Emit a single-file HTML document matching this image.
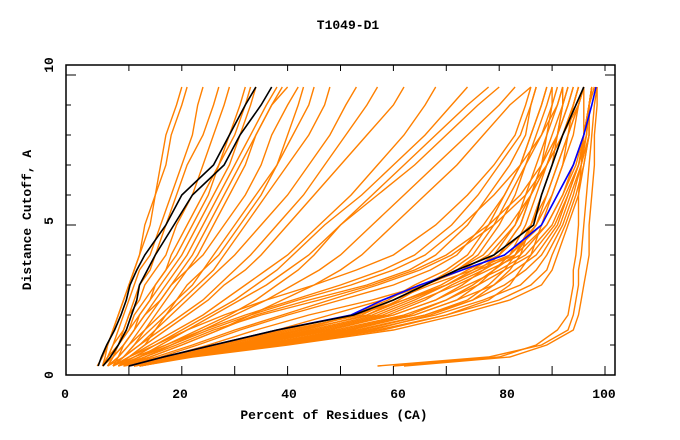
<!DOCTYPE html>
<html><head><meta charset="utf-8"><style>
html,body{margin:0;padding:0;background:#fff;}
svg{display:block;}
text{font-family:"Liberation Mono",monospace;font-weight:bold;font-size:13px;fill:#000;}
</style></head><body>
<svg id="chart" width="680" height="440">
<text x="348" y="29" text-anchor="middle">T1049-D1</text>
<text x="334" y="419" text-anchor="middle">Percent of Residues (CA)</text>
<text x="0" y="0" text-anchor="middle" transform="translate(31,220) rotate(-90)">Distance Cutoff, A</text>
<g id="lines"></g>
<g id="axes"></g>
</svg>
<script>
const yLevels=[0.3,0.6,1,1.5,2,2.5,3,3.5,4,5,6,7,8,9,9.6];
const orangeLines=[
[5,5.5,6,7,8,9,10,11,12,14,15,17,18,20,21],
[5,6,7,8,9,10,11,12,14,16,18,20,22,23,24],
[6,7,8,9,10,12,13,15,17,19,22,24,26,28,29],
[6,7,8,10,12,14,16,18,20,23,26,29,31,33,34],
[7,8,9,11,13,15,17,19,21,24,27,30,33,36,38],
[7,9,11,13,15,17,19,21,23,26,29,32,34,37,39],
[5,7,9,11,13,16,18,21,24,28,32,35,37,40,42],
[6,8,10,13,16,19,22,24,26,30,34,38,40,42,43],
[8,10,13,15,17,19,21,24,27,31,35,38,41,44,45],
[5,6,8,10,11,13,15,17,18,21,24,27,30,32,33],
[4,5,6,7,8,9,10,11,12,13,15,16,17,19,20],
[5,6,7,9,10,11,12,14,15,17,19,21,24,26,27],
[6,7,9,11,12,14,15,17,19,22,25,27,29,31,32],
[6,8,10,12,14,16,18,20,22,25,28,31,34,37,40],
[7,9,11,14,17,20,23,26,28,32,36,40,44,47,48],
[7,9,12,15,18,21,24,27,30,35,40,44,48,51,53],
[7,10,14,19,24,28,32,36,40,46,52,57,62,66,68],
[8,11,15,20,25,30,34,38,41,47,54,60,66,71,74],
[8,12,17,23,29,34,38,42,45,50,56,62,68,74,78],
[9,13,18,24,30,36,41,46,50,56,62,68,74,80,83],
[7,10,13,17,21,25,28,32,35,40,45,50,55,60,62],
[9,14,20,27,33,39,45,50,54,60,66,72,77,82,86],
[6,9,12,16,20,24,27,30,33,38,43,47,51,55,57],
[8,12,16,21,26,31,36,40,44,50,57,64,70,76,80],
[8,14,20,27,34,44,55,63,68,74,78,82,85,86,87],
[9,16,23,31,40,50,60,67,72,77,81,84,86,88,89],
[9,17,25,34,44,56,66,73,78,83,86,89,91,92,92],
[10,21,31,42,53,62,70,76,80,84,86,88,89,90,90],
[9,19,28,38,48,58,66,72,77,82,86,89,92,95,96],
[7,10,15,21,28,36,45,53,60,68,74,79,83,85,86],
[7,11,17,24,32,41,50,58,64,71,76,80,84,86,87],
[8,13,19,26,35,46,56,64,70,78,84,88,91,93,94],
[8,12,18,25,33,42,52,60,66,73,79,84,88,91,92],
[9,15,22,30,39,48,57,65,71,79,85,89,92,94,95],
[10,17,27,40,54,60,67,75,82,88,91,94,96,97,98],
[10,17.5,29,42,56,63,70,76,83,89,92,94,96,97,98],
[11,18,30,45,58,65,72,78,84,89,92,94.5,96,97,97.5],
[11,19,32,47,60,68,74,80,85,90,92.5,95,96,97,97.5],
[11,19,33,49,62,70,76,81,86,90.5,93,95,96.5,97,97.5],
[11,20,34,51,64,72,79,83,87,91,93,95,96.5,97,97.5],
[11,20,36,53,66,75,81,85,88,91.5,93.5,95.5,96.5,97,97.5],
[12,21,37,55,68,77,84,87,89,92,94,95.5,97,97,97.5],
[12,21,38,57,70,80,86,89,90,92.5,94.5,96,97,97,97.5],
[12,22,40,60,72,82,88,90,91,93,95,96,97,97,97.5],
[10,17,28,41,53,60,66,72,76,80,83,85,87,89,90],
[11,18,31,44,57,64,70,75,79,83,85,87,89,91,92],
[11,19,33,48,60,68,73,77,80,84,86,88,90,92,93],
[12,20,35,52,64,72,76,79,82,85,87,89,91,93,94],
[12,21,38,56,67,75,79,82,84,86,88,90,92,94,95],
[12,21,39,58,70,78,82,84,86,88,90,92,93,95,96],
[10,18,30,43,55,62,69,74,80,86,89,91,93,95,96],
[11,19,31,46,59,66,71,77,82,87,90,92,94,95,96],
[11,20,35,50,63,70,75,79,83,87,89,91,93,94,95],
[12,21,36,54,66,74,78,81,83,86,88,90,91,92,93],
[10,17,27,39,52,59,64,70,74,78,81,84,86,88,89],
[11,18,30,43,55,61,66,71,75,79,82,85,88,90,91],
[57,78,88,93,94,94.5,95,95,95.5,96,96.5,97,97.5,98,98.5],
[60,80,87,91,93,93.5,94,94,94.5,95,95,95.5,96,96,96],
[62,82,89,94,95,95.5,96,96.5,97,97,97.5,98,98,98.5,98.5]
];
const blackLeft1=[4.2,4.8,5.8,7.3,8.5,9.5,10.2,11.5,13,17,20,26,29,32,34];
const blackLeft2=[5.1,6.5,8,9.5,10.5,11.5,12,13.5,15,18.5,22,28,31,35,37];
const blackRight=[10,16.5,26,38,52.5,60,66,72,79,86.5,88,90,92,94.5,96];
const blueLine=[10,16.5,26,38,52,58,65,73,81,88,91,94,96,97.5,98.3];
const xTicks=[10,20,30,40,50,60,70,80,90,100];
const xTickLabels=["0","20","40","60","80","100"];
const yTicks=[0,1,2,3,4,5,6,7,8,9,10];
const yTickLabels=["0","5","10"];

const NS="http://www.w3.org/2000/svg";
const L=66,R=615,T=65,B=375;
function xs(v){return 76+5.29*v;}
function ys(v){return 375-30*v;}
const svg=document.getElementById('chart');
const defs=document.createElementNS(NS,'defs');
defs.innerHTML='<clipPath id="cp"><rect x="'+L+'" y="'+T+'" width="'+(R-L)+'" height="'+(B-T)+'"/></clipPath>';
svg.appendChild(defs);
const lg=document.getElementById('lines');
lg.setAttribute('clip-path','url(#cp)');
function pathD(arr){return arr.map(function(v,i){return (i?'L':'M')+xs(v).toFixed(1)+','+ys(yLevels[i]).toFixed(1);}).join('');}
orangeLines.forEach(function(arr){
  const p=document.createElementNS(NS,'path');
  p.setAttribute('d',pathD(arr));
  p.setAttribute('fill','none');
  p.setAttribute('stroke','#ff8000');
  p.setAttribute('stroke-width','1.4');
  
  
  lg.appendChild(p);
});
const special=[[blueLine,'#0000ff','blue-line'],[blackRight,'#000000','black-line-right'],[blackLeft1,'#000000','black-line-left-1'],[blackLeft2,'#000000','black-line-left-2']];
special.forEach(function(s){
  const p=document.createElementNS(NS,'path');
  p.setAttribute('d',pathD(s[0]));
  p.setAttribute('fill','none');
  p.setAttribute('stroke',s[1]);
  p.setAttribute('stroke-width','1.6');
  
  
  lg.appendChild(p);
});
const ax=document.getElementById('axes');
let h='<rect x="'+L+'" y="'+T+'" width="'+(R-L)+'" height="'+(B-T)+'" fill="none" stroke="#000" stroke-width="1.5"/>';
xTicks.forEach(function(v){const x=xs(v);h+='<line x1="'+x+'" y1="'+B+'" x2="'+x+'" y2="'+(B-9)+'" stroke="#000"/><line x1="'+x+'" y1="'+T+'" x2="'+x+'" y2="'+(T+6)+'" stroke="#000"/>';});
yTicks.forEach(function(v){const y=ys(v);const len=(v%5===0)?10:5;h+='<line x1="'+L+'" y1="'+y+'" x2="'+(L+len)+'" y2="'+y+'" stroke="#000"/><line x1="'+R+'" y1="'+y+'" x2="'+(R-len)+'" y2="'+y+'" stroke="#000"/>';});
ax.innerHTML=h;
const xlPos=[65,180,289,398,507,604];
xTickLabels.forEach(function(t,i){
  const e=document.createElementNS(NS,'text');
  e.setAttribute('x',xlPos[i]);
  e.setAttribute('y',398);
  e.setAttribute('text-anchor','middle');
  e.textContent=t;
  
  
  svg.appendChild(e);
});
const ylPos=[375,221,65];
yTickLabels.forEach(function(t,i){
  const e=document.createElementNS(NS,'text');
  e.setAttribute('text-anchor','middle');
  e.setAttribute('transform','translate(53,'+ylPos[i]+') rotate(-90)');
  e.textContent=t;
  
  
  svg.appendChild(e);
});
</script>
</body></html>
